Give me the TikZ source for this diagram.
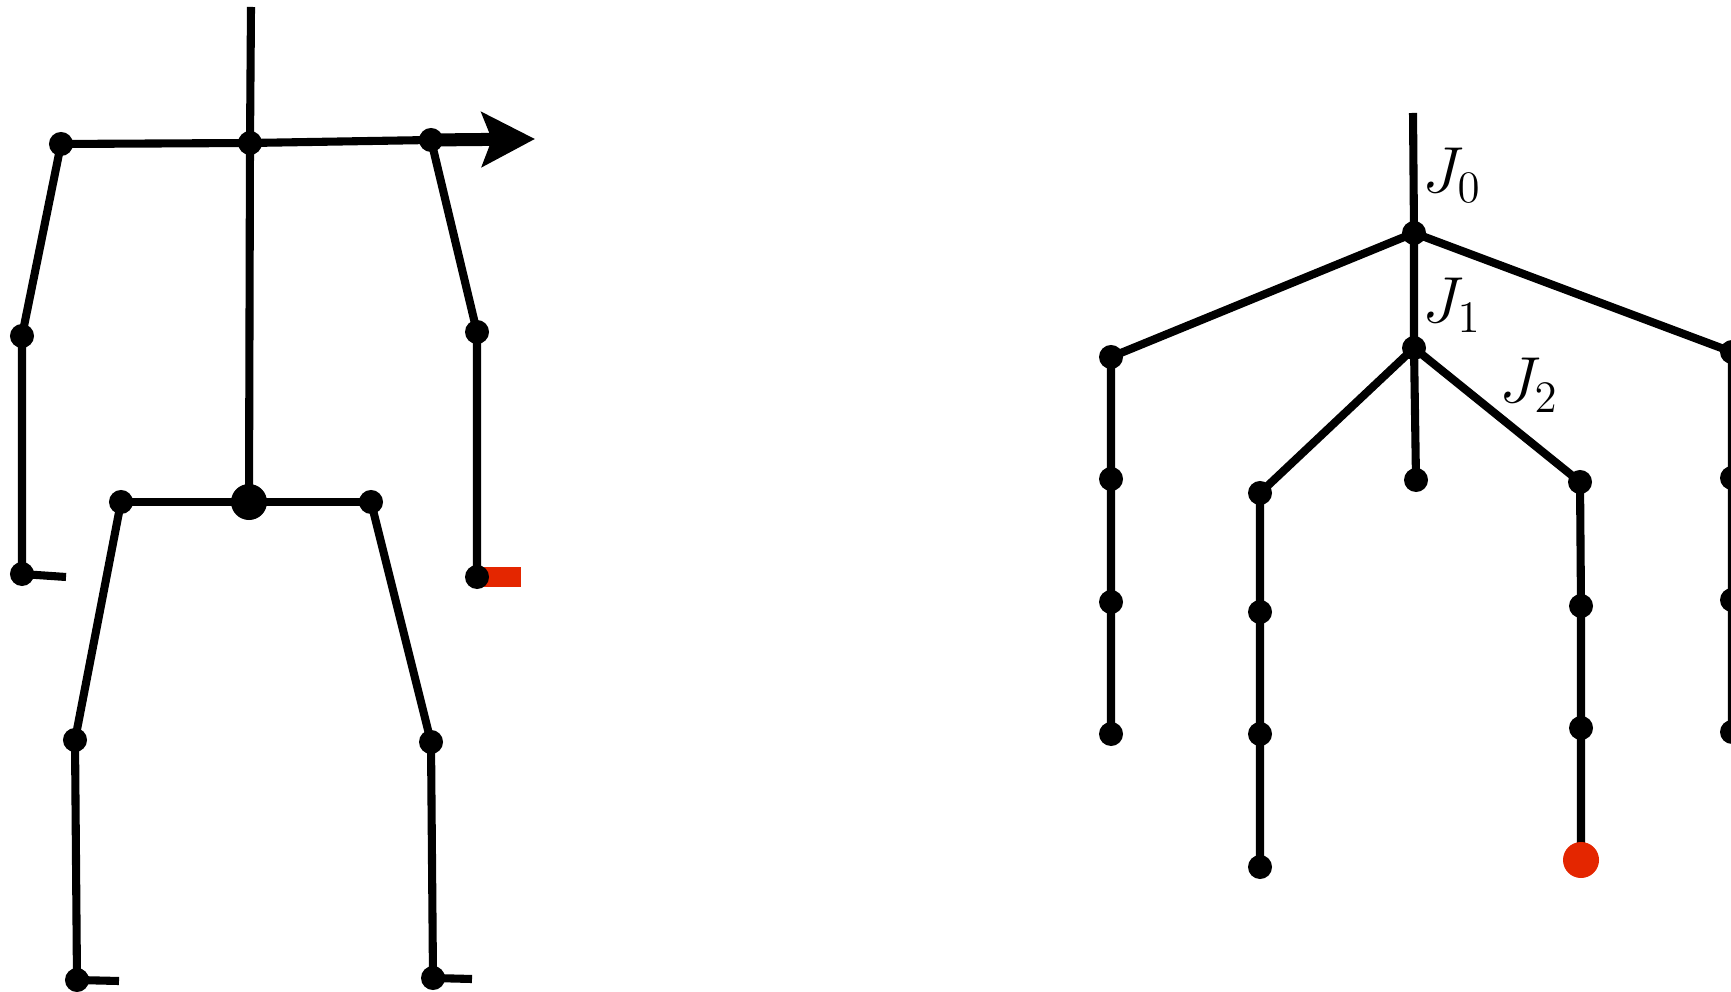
\RequirePackage{fix-cm}
\documentclass[tikz,border=0pt]{standalone}
\usetikzlibrary{arrows.meta}
\definecolor{handred}{RGB}{228,38,0}
\DeclareMathSizes{18.5}{18.5}{12.8}{10}

\begin{document}
\begin{tikzpicture}[x=0.01cm, y=-0.01cm,
    bone/.style={line width=2.3pt},
    jlabel/.style={inner sep=0pt, font=\fontsize{18.5}{22}\selectfont}]
    \useasboundingbox (0,0) rectangle (1731,992);

    \coordinate (head) at (251,7);
    \coordinate (neck) at (250,143);
    \coordinate (pelvis) at (249,502);
    \coordinate (lshoulder) at (61,144);
    \coordinate (lelbow) at (22,336);
    \coordinate (lwrist) at (22,574);
    \coordinate (lhand) at (66,577);
    \coordinate (rshoulder) at (431,140);
    \coordinate (relbow) at (477,332);
    \coordinate (rwrist) at (477,577);
    \coordinate (rhand) at (521,577);
    \coordinate (arrowtip) at (535,139);
    \coordinate (lhip) at (121,502);
    \coordinate (lknee) at (75,740);
    \coordinate (lankle) at (77,980);
    \coordinate (lfoot) at (119,981);
    \coordinate (rhip) at (371,502);
    \coordinate (rknee) at (431,742);
    \coordinate (rankle) at (433,978);
    \coordinate (rfoot) at (472,979);

    \draw[bone] (head) -- (neck) -- (pelvis);
    \draw[bone] (lshoulder) -- (neck) -- (rshoulder);
    \draw[bone] (lshoulder) -- (lelbow) -- (lwrist) -- (lhand);
    \draw[bone] (rshoulder) -- (relbow) -- (rwrist);
    \draw[bone] (lhip) -- (pelvis) -- (rhip);
    \draw[bone] (lhip) -- (lknee) -- (lankle) -- (lfoot);
    \draw[bone] (rhip) -- (rknee) -- (rankle) -- (rfoot);
    \draw[line width=3.7pt, -{Stealth[length=0.53cm, width=0.54cm, inset=0.1cm]}] (rshoulder) -- (arrowtip);
    \draw[line width=5.6pt, handred] (rwrist) -- (rhand);

    \fill (neck) circle (0.12cm);
    \fill (pelvis) circle (0.18cm);
    \fill (lshoulder) circle (0.12cm);
    \fill (lelbow) circle (0.12cm);
    \fill (lwrist) circle (0.12cm);
    \fill (rshoulder) circle (0.12cm);
    \fill (relbow) circle (0.12cm);
    \fill (rwrist) circle (0.12cm);
    \fill (lhip) circle (0.12cm);
    \fill (lknee) circle (0.12cm);
    \fill (lankle) circle (0.12cm);
    \fill (rhip) circle (0.12cm);
    \fill (rknee) circle (0.12cm);
    \fill (rankle) circle (0.12cm);

    \coordinate (root) at (1413,113);
    \coordinate (j0) at (1414,233);
    \coordinate (j1) at (1414,348);
    \coordinate (tl0) at (1111,357);
    \coordinate (tl1) at (1111,479);
    \coordinate (tl2) at (1111,602);
    \coordinate (tl3) at (1111,734);
    \coordinate (tr0) at (1732,352);
    \coordinate (tr1) at (1732,478);
    \coordinate (tr2) at (1732,600);
    \coordinate (tr3) at (1732,732);
    \coordinate (ml0) at (1260,493);
    \coordinate (ml1) at (1260,612);
    \coordinate (ml2) at (1260,734);
    \coordinate (ml3) at (1260,867);
    \coordinate (mc) at (1416,480);
    \coordinate (mr0) at (1580,482);
    \coordinate (mr1) at (1581,606);
    \coordinate (mr2) at (1581,728);
    \coordinate (mr3) at (1581,860);

    \draw[bone] (root) -- (j0) -- (j1) -- (mc);
    \draw[bone] (tl3) -- (tl2) -- (tl1) -- (tl0) -- (j0) -- (tr0) -- (tr1) -- (tr2) -- (tr3);
    \draw[bone] (ml3) -- (ml2) -- (ml1) -- (ml0) -- (j1) -- (mr0) -- (mr1) -- (mr2) -- (mr3);

    \fill (j0) circle (0.12cm);
    \fill (j1) circle (0.12cm);
    \fill (tl0) circle (0.12cm);
    \fill (tl1) circle (0.12cm);
    \fill (tl2) circle (0.12cm);
    \fill (tl3) circle (0.12cm);
    \fill (tr0) circle (0.12cm);
    \fill (tr1) circle (0.12cm);
    \fill (tr2) circle (0.12cm);
    \fill (tr3) circle (0.12cm);
    \fill (ml0) circle (0.12cm);
    \fill (ml1) circle (0.12cm);
    \fill (ml2) circle (0.12cm);
    \fill (ml3) circle (0.12cm);
    \fill (mc) circle (0.12cm);
    \fill (mr0) circle (0.12cm);
    \fill (mr1) circle (0.12cm);
    \fill (mr2) circle (0.12cm);
    \fill[handred] (mr3) circle (0.18cm);

    \node[jlabel] (lj0) at (1452,175) {$J_0$};
    \node[jlabel] (lj1) at (1452,305) {$J_1$};
    \node[jlabel] (lj2) at (1529,385) {$J_2$};

\end{tikzpicture}
\end{document}
